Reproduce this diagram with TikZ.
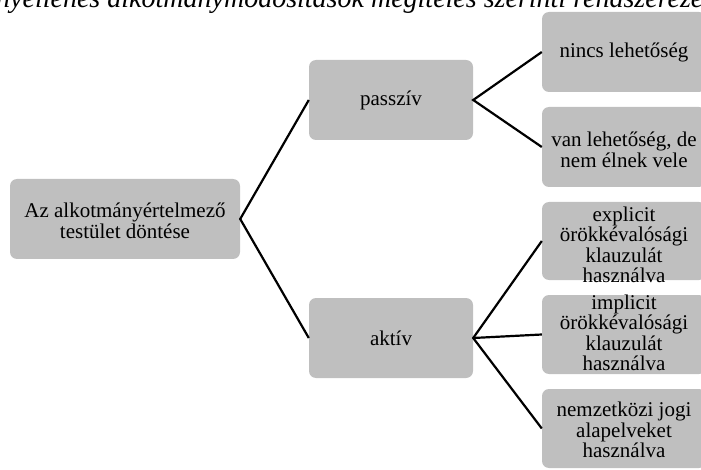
\documentclass[tikz,border=0pt]{standalone}
\usepackage{fontspec}
\setmainfont{Liberation Serif}
\definecolor{boxgray}{HTML}{BFBFBF}
\begin{document}
\begin{tikzpicture}[x=1pt,y=-1pt,
  box/.style={fill=boxgray, rounded corners=7pt, minimum width=164pt, minimum height=80pt, inner sep=0pt, draw=none},
  txt/.style={align=center, inner sep=0pt, font=\fontsize{21}{20.5}\selectfont},
  conn/.style={line width=2.2pt, black}]
\useasboundingbox (0,0) rectangle (701,470);
\clip (0,0) rectangle (701,470);
% title (cut off at both sides)
\node[anchor=base west, inner sep=0pt, font=\fontsize{28}{30}\selectfont\itshape] (title) at (-4,8) {nyellenes alkotmánymódosítások megítélés szerinti rendszerezése};
% boxes
\node[box, minimum width=230pt] (root) at (125,219) {};
\node[box] (pas) at (391,100) {};
\node[box] (akt) at (391,338) {};
\node[box] (nincs) at (624,52) {};
\node[box] (van) at (624,147) {};
\node[box, minimum height=78pt] (expl) at (624,241) {};
\node[box, minimum height=79pt] (impl) at (624,334.5) {};
\node[box, minimum height=79pt] (nemz) at (624,428.5) {};
% texts
\node[txt] (troot) at (125,221) {Az alkotmányértelmező\\testület döntése};
\node[txt] (tpas) at (391,100) {passzív};
\node[txt] (takt) at (391,338) {aktív};
\node[txt] (tnincs) at (624,52) {nincs lehetőség};
\node[txt] (tvan) at (624,150) {van lehetőség, de\\nem élnek vele};
\node[txt] (texpl) at (624,245) {explicit\\örökkévalósági\\klauzulát\\használva};
\node[txt] (timpl) at (624,333) {implicit\\örökkévalósági\\klauzulát\\használva};
\node[txt] (tnemz) at (624,430) {nemzetközi jogi\\alapelveket\\használva};
% connectors
\draw[conn] (pas.west) -- (root.east) -- (akt.west);
\draw[conn] (nincs.west) -- (pas.east) -- (van.west);
\draw[conn] (expl.west) -- (akt.east) -- (nemz.west);
\draw[conn] (akt.east) -- (impl.west);
\end{tikzpicture}
\end{document}
